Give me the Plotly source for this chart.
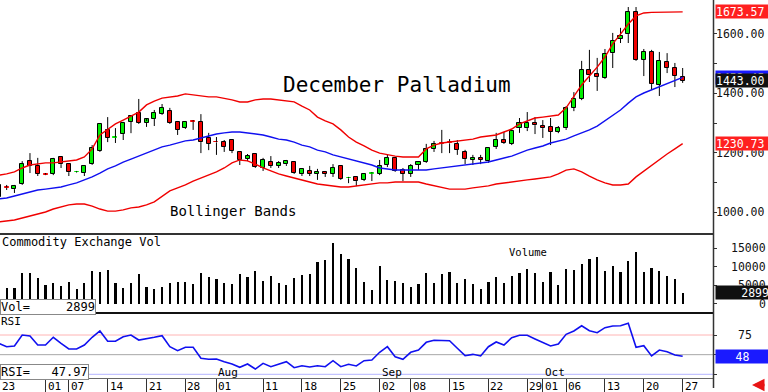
import plotly.graph_objects as go

# ---------------- data ----------------
tick_idx = [0, 6, 9, 14, 19, 24, 28, 34, 39, 44, 49, 53, 58, 63, 68, 70, 73, 78, 83, 88]
tick_text = ["23", "01", "07", "14", "21", "28", "01", "11", "18", "25",
             "02", "08", "15", "22", "29", "01", "06", "13", "20", "27"]
month_idx = [28, 49, 70]
month_text = ["Aug", "Sep", "Oct"]

opens = [1051, 1085, 1078, 1095, 1172, 1156, 1129, 1129, 1186, 1162,
         1134, 1132, 1162, 1206, 1277, 1251, 1263, 1304, 1334, 1300,
         1314, 1330, 1341, 1304, 1283, 1307, 1304, 1250, 1236, 1236,
         1243, 1203, 1179, 1196, 1149, 1169, 1156, 1162, 1169, 1129,
         1139, 1129, 1136, 1129, 1156, 1114, 1119, 1109, 1130, 1129,
         1159, 1183, 1142, 1129, 1159, 1169, 1213, 1231, 1233, 1230,
         1203, 1176, 1183, 1172, 1220, 1243, 1230, 1283, 1283, 1300,
         1290, 1287, 1270, 1283, 1351, 1381, 1478, 1465, 1451, 1535,
         1583, 1599, 1673, 1512, 1539, 1428, 1505, 1485, 1455]
highs = [1098, 1092, 1092, 1172, 1199, 1183, 1132, 1183, 1189, 1165,
         1139, 1159, 1226, 1300, 1320, 1283, 1304, 1327, 1381, 1307,
         1344, 1364, 1351, 1307, 1307, 1310, 1330, 1267, 1253, 1243,
         1246, 1206, 1196, 1199, 1183, 1189, 1172, 1176, 1172, 1146,
         1156, 1146, 1139, 1162, 1159, 1119, 1122, 1132, 1135, 1176,
         1196, 1186, 1149, 1162, 1172, 1230, 1240, 1277, 1246, 1243,
         1210, 1193, 1193, 1219, 1267, 1270, 1277, 1317, 1337, 1320,
         1310, 1317, 1290, 1357, 1404, 1509, 1546, 1519, 1549, 1603,
         1620, 1690, 1690, 1549, 1546, 1539, 1535, 1502, 1485]
lows = [1048, 1075, 1065, 1092, 1132, 1122, 1125, 1125, 1149, 1122,
        1132, 1122, 1159, 1203, 1236, 1233, 1243, 1266, 1297, 1287,
        1290, 1327, 1297, 1260, 1280, 1277, 1199, 1209, 1193, 1203,
        1199, 1159, 1172, 1149, 1139, 1149, 1149, 1156, 1129, 1122,
        1122, 1109, 1119, 1119, 1109, 1098, 1088, 1105, 1105, 1125,
        1152, 1136, 1105, 1119, 1142, 1166, 1203, 1199, 1199, 1193,
        1162, 1159, 1162, 1166, 1213, 1230, 1226, 1267, 1273, 1263,
        1250, 1226, 1266, 1277, 1340, 1377, 1438, 1408, 1448, 1485,
        1569, 1569, 1509, 1458, 1411, 1391, 1468, 1421, 1435]
closes = [1092, 1083, 1088, 1162, 1156, 1129, 1127, 1179, 1162, 1135,
          1136, 1156, 1216, 1297, 1250, 1253, 1300, 1324, 1300, 1314,
          1334, 1351, 1300, 1277, 1304, 1305, 1236, 1230, 1235, 1220,
          1206, 1176, 1189, 1152, 1176, 1156, 1166, 1172, 1132, 1146,
          1129, 1136, 1129, 1149, 1112, 1115, 1105, 1129, 1132, 1156,
          1183, 1139, 1129, 1156, 1169, 1213, 1230, 1230, 1232, 1210,
          1179, 1183, 1176, 1216, 1243, 1233, 1273, 1300, 1300, 1293,
          1283, 1270, 1283, 1351, 1381, 1478, 1462, 1455, 1532, 1576,
          1593, 1673, 1512, 1539, 1431, 1509, 1485, 1458, 1443]

bb_upper = [1125, 1129, 1136, 1149, 1159, 1162, 1166, 1166, 1169, 1173,
            1176, 1186, 1213, 1260, 1280, 1297, 1310, 1324, 1337, 1361,
            1374, 1384, 1388, 1391, 1398, 1394, 1391, 1388, 1388, 1384,
            1378, 1371, 1371, 1378, 1381, 1381, 1378, 1374, 1371, 1357,
            1344, 1320, 1307, 1297, 1277, 1253, 1236, 1223, 1209, 1199,
            1193, 1189, 1186, 1186, 1186, 1213, 1226, 1233, 1236, 1240,
            1243, 1246, 1253, 1257, 1260, 1270, 1280, 1297, 1307, 1317,
            1320, 1324, 1327, 1351, 1388, 1428, 1458, 1488, 1522, 1566,
            1599, 1633, 1660, 1670, 1672, 1673, 1674, 1674, 1673.57]
bb_mid = [1045, 1048, 1055, 1062, 1068, 1075, 1078, 1082, 1085, 1092,
          1099, 1109, 1119, 1132, 1146, 1156, 1169, 1179, 1189, 1199,
          1209, 1220, 1226, 1233, 1240, 1243, 1250, 1257, 1263, 1267,
          1270, 1270, 1267, 1263, 1260, 1253, 1246, 1243, 1236, 1226,
          1220, 1209, 1203, 1193, 1186, 1179, 1173, 1166, 1159, 1149,
          1146, 1142, 1142, 1142, 1142, 1142, 1146, 1149, 1152, 1156,
          1159, 1162, 1166, 1169, 1176, 1183, 1189, 1199, 1209, 1216,
          1223, 1233, 1240, 1246, 1257, 1267, 1277, 1290, 1307, 1324,
          1344, 1367, 1388, 1401, 1411, 1421, 1431, 1441, 1453.45]
bb_lower = [968, 971, 974, 981, 988, 994, 1001, 1011, 1018, 1025,
            1028, 1028, 1021, 1011, 1004, 1004, 1008, 1015, 1018, 1025,
            1035, 1055, 1072, 1082, 1092, 1105, 1115, 1125, 1136, 1149,
            1166, 1176, 1173, 1162, 1149, 1139, 1129, 1122, 1115, 1109,
            1102, 1095, 1092, 1089, 1085, 1085, 1089, 1092, 1095, 1099,
            1099, 1102, 1102, 1102, 1102, 1095, 1089, 1082, 1078, 1078,
            1078, 1082, 1085, 1089, 1095, 1099, 1102, 1105, 1109, 1112,
            1115, 1119, 1129, 1142, 1146, 1136, 1122, 1109, 1099, 1092,
            1092, 1095, 1119, 1139, 1159, 1179, 1196, 1213, 1230.73]

volume = [None, 4130, 4130, 8205, 8205, 6847, 5026, 5488, 4836, 5760,
          3940, 5488, 8912, 8640, 9102, 5651, 4130, 5651, 7934, 4402,
          3940, 4565, 5488, 5760, 5760, 5217, 8368, 7282, 6575, 5488,
          5298, 8097, 7282, 8912, 6113, 7472, 5651, 4945, 6847, 7743,
          7934, 11357, 11819, 16356, 13449, 12172, 9564, 5842, 3668, 10189,
          6385, 6113, 5651, 4402, 5298, 8205, 5651, 8015, 8640, 5651,
          6738, 5298, 4021, 5760, 7200, 5488, 7472, 8205, 9374, 8205,
          5760, 8477, 5026, 9374, 9020, 10651, 12091, 12634, 8830, 10189,
          8559, 11629, 13911, 8640, 9564, 8830, 7553, 6575, 2899]

rsi = [64.4, 60.1, 61.0, 75.0, 73.7, 62.3, 62.3, 72.1, 64.4, 57.2,
       57.2, 62.3, 72.1, 80.1, 67.0, 67.0, 72.8, 75.0, 68.6, 69.9,
       72.1, 74.1, 60.1, 55.0, 59.4, 59.4, 45.4, 44.1, 44.5, 41.0,
       38.1, 33.9, 38.1, 31.7, 39.0, 34.7, 37.7, 41.0, 33.4, 35.9,
       34.3, 35.9, 34.7, 42.3, 34.7, 37.7, 35.6, 42.3, 43.2, 53.0,
       60.1, 47.4, 44.1, 53.0, 55.9, 65.7, 68.3, 67.7, 67.7, 58.1,
       48.7, 50.4, 48.3, 60.1, 66.1, 62.3, 71.6, 74.6, 74.6, 69.9,
       65.7, 61.0, 63.5, 75.9, 80.1, 86.8, 80.5, 77.9, 84.3, 86.5,
       86.8, 89.9, 59.4, 61.4, 48.3, 55.9, 53.8, 49.6, 47.97]

price_ticks = [1000, 1100, 1200, 1300, 1400, 1500, 1600]
price_label_ticks = [1000, 1200, 1400, 1600]
vol_ticks = [0, 5000, 10000, 15000]
rsi_levels = [75, 50, 25]

last_close = closes[-1]
last_vol = volume[-1]
last_rsi = rsi[-1]

# ---------------- layout constants ----------------
W, H = 768, 392
X_RIGHT = 713
MONO = "DejaVu Sans Mono"
GREEN, RED, BLUE = "#00ee00", "#f00000", "#1010f0"

def fx(p):
    return p / W

def fy(p):
    return 1 - p / H

n = len(closes)
idx = list(range(n))
x_range = [0.1416, 91.905]

# candle bodies
body_base = [min(o, c) for o, c in zip(opens, closes)]
body_h = [max(abs(c - o), 3) for o, c in zip(opens, closes)]
body_col = [GREEN if c >= o else RED for o, c in zip(opens, closes)]
body_line = [body_col[i] if abs(closes[i] - opens[i]) < 3 else "black" for i in idx]

# wicks (drawn outside bodies)
wx, wy = [], []
for i in idx:
    top = max(opens[i], closes[i])
    bot = min(opens[i], closes[i])
    wx += [i, i, None, i, i, None]
    wy += [highs[i], top, None, bot, lows[i], None]

fig = go.Figure()
fig.add_trace(go.Scatter(x=wx, y=wy, mode="lines", line=dict(color="black", width=1),
                         xaxis="x", yaxis="y", hoverinfo="skip"))
fig.add_trace(go.Bar(x=idx, y=body_h, base=body_base, width=0.52,
                     marker=dict(color=body_col, line=dict(color=body_line, width=1)),
                     xaxis="x", yaxis="y"))
fig.add_trace(go.Scatter(x=idx, y=bb_upper, mode="lines", line=dict(color=RED, width=1.4),
                         xaxis="x", yaxis="y"))
fig.add_trace(go.Scatter(x=idx, y=bb_lower, mode="lines", line=dict(color=RED, width=1.4),
                         xaxis="x", yaxis="y"))
fig.add_trace(go.Scatter(x=idx, y=bb_mid, mode="lines", line=dict(color=BLUE, width=1.4),
                         xaxis="x", yaxis="y"))

fig.add_trace(go.Bar(x=idx, y=volume, width=0.28, marker=dict(color="black", line=dict(width=0)),
                     xaxis="x2", yaxis="y2"))

fig.add_trace(go.Scatter(x=idx, y=rsi, mode="lines", line=dict(color=BLUE, width=1.6),
                         xaxis="x3", yaxis="y3"))

ax_common = dict(range=x_range, domain=[0, fx(X_RIGHT)], showgrid=False, zeroline=False,
                 showticklabels=False, showline=False)

fig.update_layout(
    width=W, height=H, margin=dict(l=0, r=0, t=0, b=0),
    paper_bgcolor="white", plot_bgcolor="white", showlegend=False, bargap=0,
    xaxis=dict(**ax_common, anchor="y", ticks=""),
    xaxis2=dict(**ax_common, anchor="y2", matches="x", ticks=""),
    xaxis3=dict(**ax_common, anchor="y3", matches="x", ticks="outside", ticklen=14,
                tickwidth=1, tickcolor="#333", tickvals=tick_idx),
    yaxis=dict(domain=[fy(234), 1], range=[927.1, 1713.6], side="right", anchor="x",
               tickvals=price_ticks, showticklabels=False,
               ticks="outside", ticklen=3, tickcolor="#333",
               showgrid=False, zeroline=False, showline=False),
    yaxis4=dict(overlaying="y", side="left", anchor="x", range=[927.1, 1713.6],
                tickvals=price_ticks, ticks="inside", ticklen=3, tickcolor="#555",
                showticklabels=False, showgrid=False, zeroline=False, showline=False),
    yaxis2=dict(domain=[fy(313), fy(234)], range=[-2581, 18883], side="right", anchor="x2",
                tickvals=vol_ticks, showticklabels=False, ticks="outside", ticklen=3,
                tickcolor="#333", showgrid=False, zeroline=False, showline=False),
    yaxis3=dict(domain=[fy(378), fy(313)], range=[20.3, 103.0], side="right", anchor="x3",
                tickvals=rsi_levels, showticklabels=False, ticks="outside", ticklen=3,
                tickcolor="#333", showgrid=False, zeroline=False, showline=False),
)

shapes = []
rsi_cols = {75: "#ffb4b4", 50: "#a8a8a8", 25: "#b4b4ff"}
for lv in rsi_levels:
    shapes.append(dict(type="line", xref="paper", yref="y3", x0=0, x1=fx(X_RIGHT), y0=lv, y1=lv,
                       line=dict(color=rsi_cols[lv], width=1), layer="below"))
shapes += [
    dict(type="line", xref="paper", yref="paper", x0=0, x1=fx(X_RIGHT), y0=fy(234), y1=fy(234),
         line=dict(color="#333", width=2)),
    dict(type="line", xref="paper", yref="paper", x0=0, x1=fx(X_RIGHT), y0=fy(313), y1=fy(313),
         line=dict(color="#111", width=2)),
    dict(type="line", xref="paper", yref="paper", x0=0, x1=fx(X_RIGHT), y0=fy(378.5), y1=fy(378.5),
         line=dict(color="#666", width=1)),
    dict(type="line", xref="paper", yref="paper", x0=fx(X_RIGHT + 0.5), x1=fx(X_RIGHT + 0.5),
         y0=fy(388), y1=1, line=dict(color="#333", width=1.5)),
]
fig.update_layout(shapes=shapes)

NB = "\u00a0"
ann = []
AX_FONT = dict(family=MONO, size=11.5, color="#111")

def txt(t, x, y, size, xanchor="left", color="black", **kw):
    ann.append(dict(text=t, x=fx(x), y=fy(y), xref="paper", yref="paper", xanchor=xanchor,
                    yanchor="middle", showarrow=False,
                    font=dict(family=MONO, size=size, color=color), **kw))

txt("December Palladium", 281, 85, 21)
txt("Bollinger Bands", 168, 211, 14)
txt("Commodity Exchange Vol", 0, 242, 12)
txt("Volume", 507, 252, 10.5)
txt("RSI", -1, 321, 11)

# price axis labels
for v in price_label_ticks:
    ann.append(dict(text=f"{v:.2f}", x=fx(714), xref="paper", y=v, yref="y", xanchor="left",
                    yanchor="middle", showarrow=False, font=AX_FONT))
# volume / rsi axis labels
for v in vol_ticks:
    ann.append(dict(text=str(v), x=fx(768), xref="paper", y=v, yref="y2", xanchor="right",
                    yanchor="middle", showarrow=False, font=AX_FONT))
ann.append(dict(text="75", x=fx(745), xref="paper", y=75, yref="y3", xanchor="center",
                yanchor="middle", showarrow=False, font=AX_FONT))

def vbox(t, yval, yref, bg, align="left"):
    ann.append(dict(text=t, x=fx(715), xref="paper", y=yval, yref=yref, xanchor="left",
                    yanchor="middle", showarrow=False, bgcolor=bg, width=53, height=13,
                    align=align, borderpad=0,
                    font=dict(family=MONO, size=11.5, color="white")))

vbox(f"{bb_upper[-1]:.2f}", bb_upper[-1], "y", "#ff2020")
vbox(f"{bb_mid[-1]:.2f}", bb_mid[-1], "y", "#1a1aff")
vbox(f"{last_close:.2f}", last_close, "y", "#101010")
vbox(f"{bb_lower[-1]:.2f}", bb_lower[-1], "y", "#ff2020")
vbox(f"{last_vol}", last_vol, "y2", "#101010", align="right")
vbox(f"{round(last_rsi)}", last_rsi, "y3", "#1a1aff", align="center")

# left value boxes
ann.append(dict(text="Vol=" + NB * 5 + f"{last_vol}", x=0, y=fy(306.5), xref="paper", yref="paper",
                xanchor="left", yanchor="middle", showarrow=False, bgcolor="white",
                bordercolor="#888", borderwidth=1, borderpad=0,
                font=dict(family=MONO, size=12, color="black")))
ann.append(dict(text="RSI=" + NB * 3 + f"{last_rsi:.2f}", x=0, y=fy(372), xref="paper", yref="paper",
                xanchor="left", yanchor="middle", showarrow=False, bgcolor="white",
                bordercolor="#888", borderwidth=1, borderpad=0,
                font=dict(family=MONO, size=12, color="black")))

# date labels & months
for i, t in zip(tick_idx, tick_text):
    ann.append(dict(text=t, x=max(i, x_range[0]), xref="x3", y=fy(386), yref="paper",
                    xanchor="left", yanchor="middle", showarrow=False,
                    font=dict(family=MONO, size=11, color="black")))
for i, t in zip(month_idx, month_text):
    ann.append(dict(text=t, x=i, xref="x3", y=fy(372.5), yref="paper",
                    xanchor="left", yanchor="middle", showarrow=False,
                    font=dict(family=MONO, size=11, color="black")))

# small red arrow bottom-right
ann.append(dict(text="", x=fx(752), y=fy(385), xref="paper", yref="paper", showarrow=True,
                ax=14, ay=0, arrowhead=2, arrowsize=1, arrowwidth=2.5, arrowcolor="#e81414"))

fig.update_layout(annotations=ann)
fig.write_html("out.html", config={"displayModeBar": False},
               post_script="document.body.style.margin='0';document.body.style.overflow='hidden';")
